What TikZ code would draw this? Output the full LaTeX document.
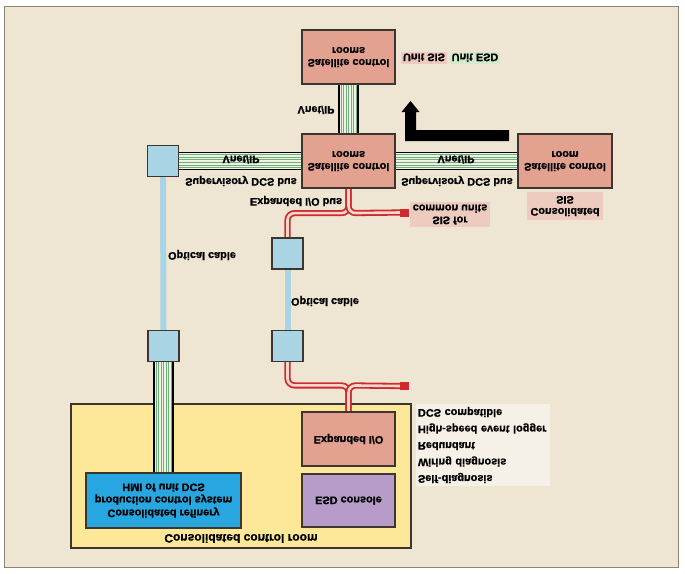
\documentclass[tikz,border=0pt]{standalone}
\usepackage{fontspec}
\setmainfont{Liberation Sans}[BoldFeatures={FakeBold=1}]
\usetikzlibrary{backgrounds}
\definecolor{paper}{HTML}{EEE5D3}
\definecolor{framec}{HTML}{8C8475}
\definecolor{salmon}{HTML}{E3A18F}
\definecolor{edge}{HTML}{3C3530}
\definecolor{conblue}{HTML}{A8D4E4}
\definecolor{hmiblue}{HTML}{28A6E0}
\definecolor{esdpurple}{HTML}{B79CC9}
\definecolor{roomyellow}{HTML}{FDE899}
\definecolor{stripe}{HTML}{6FAE7C}
\definecolor{stripebg}{HTML}{EFF4E2}
\definecolor{cablered}{HTML}{CF2A2E}
\definecolor{cablein}{HTML}{F3D8CC}
\definecolor{tagpink}{HTML}{EDCBBE}
\definecolor{taggreen}{HTML}{D3EACB}
\definecolor{notebg}{HTML}{F6F1E6}
\begin{document}
% Text nodes are mirrored top to bottom (yscale=-1), so on those nodes
% .north is the lower edge on the page and .south the upper edge.
\begin{tikzpicture}[x=1pt,y=-1pt,
  txt/.style={font=\bfseries\fontsize{10.9}{12}\selectfont, yscale=-1, align=center, inner sep=1pt},
  unit/.style={txt, draw=edge, line width=1.2pt, minimum width=93pt, minimum height=54pt},
  satbox/.style={unit, fill=salmon},
  joint/.style={draw=edge, line width=1.2pt, fill=conblue, minimum size=31pt, inner sep=0pt},
  tag/.style={txt, inner sep=0pt},
  cableend/.style={fill=cablered, minimum width=9pt, minimum height=8pt, inner sep=0pt},
  cable/.style={draw=cablered, double=cablein, line width=1.8pt, double distance=2.6pt, rounded corners=7pt},
  optic/.style={draw=conblue, line width=6pt},
  buspale/.style={draw=stripebg},
  busline/.style={draw=stripe, line width=0.8pt},
  busedge/.style={draw=black, line width=1.2pt}]
\useasboundingbox (0,0) rectangle (685,573);

% sheet, control room and feature list
\begin{scope}[on background layer]
  \fill[white] (0,0) rectangle (685,573);
  \draw[framec, fill=paper, line width=1pt] (4,6) rectangle (678.5,567.5);
  \node[draw=edge, line width=1.2pt, fill=roomyellow, minimum width=340pt,
        minimum height=144pt, inner sep=0pt] (room) at (241,476) {};
  \node[txt, fill=notebg, minimum width=134pt, minimum height=82pt, text width=130pt,
        align=left, inner xsep=2pt, inner ysep=0pt,
        font=\bfseries\fontsize{10.9}{16.5}\selectfont] (notes) at (483,445)
        {Self-diagnosis\\Wiring diagnosis\\Redundant\\High-speed event logger\\DCS compatible};
\end{scope}

% control rooms and equipment
\node[satbox] (top) at (348.5,57) {Satellite control\\rooms};
\node[satbox] (mid) at (348.5,161) {Satellite control\\rooms};
\node[satbox, minimum width=94pt] (right) at (565,161) {Satellite control\\room};
\node[joint] (jL) at (163,161) {};
\node[joint] (jLL) at (163.5,346) {};
\node[joint] (jM) at (287.5,253.5) {};
\node[joint] (jML) at (287.5,346) {};
\node[unit, fill=hmiblue, minimum width=155pt, minimum height=55pt,
      font=\bfseries\fontsize{10.9}{13}\selectfont] (hmi) at (163.5,500.5)
      {Consolidated refinery\\production control system\\HMI of unit DCS};
\node[unit, fill=salmon] (exio) at (348.5,439) {Expanded I/O};
\node[unit, fill=esdpurple, minimum height=53pt] (esd) at (348.5,500.5) {ESD console};
\node[cableend] (endA) at (404.5,212.5) {};
\node[cableend] (endB) at (404.5,386) {};

% tags
\node[tag, fill=tagpink, minimum width=46pt, minimum height=12pt] (usis) at (424,57.5) {Unit SIS};
\node[tag, fill=taggreen, minimum width=50pt, minimum height=12pt] (uesd) at (475,57.5) {Unit ESD};
\node[tag, fill=tagpink, minimum width=80pt, minimum height=25pt] (sisc) at (450,214.5) {SIS for\\common units};
\node[tag, fill=tagpink, minimum width=76pt, minimum height=28pt] (csis) at (565,206) {Consolidated\\SIS};

% labels
\node[txt] (vtop) at (316,110) {Vnet/IP};
\node[txt] (vleft) at (241,159.5) {Vnet/IP};
\node[txt] (vright) at (456,159.5) {Vnet/IP};
\node[txt] (sleft) at (241,181) {Supervisory DCS bus};
\node[txt] (sright) at (457,181) {Supervisory DCS bus};
\node[txt] (iobus) at (296,201) {Expanded I/O bus};
\node[txt] (optL) at (202,255) {Optical cable};
\node[txt] (optM) at (325,301) {Optical cable};
\node[txt, font=\bfseries\fontsize{12}{14}\selectfont] (roomlbl) at (241,538.5) {Consolidated control room};

% direction arrow
\fill[black] (509,130) -- (416,130) -- (416,112) -- (419.5,112) -- (410.5,101)
  -- (401.5,112) -- (405,112) -- (405,141) -- (509,141) -- cycle;

% buses and cables
\begin{scope}[on background layer]
  % horizontal supervisory buses
  \draw[buspale, line width=17pt] (jL.east) -- (mid.west);
  \draw[buspale, line width=17pt] (mid.east) -- (right.west);
  \foreach \d in {-6.5,-3.9,-1.3,1.3,3.9,6.5} {
    \draw[busline] ([yshift=\d pt]jL.east) -- ([yshift=\d pt]mid.west);
    \draw[busline] ([yshift=\d pt]mid.east) -- ([yshift=\d pt]right.west);
  }
  \foreach \d in {-8.5,8.5} {
    \draw[busedge] ([yshift=\d pt]jL.east) -- ([yshift=\d pt]mid.west);
    \draw[busedge] ([yshift=\d pt]mid.east) -- ([yshift=\d pt]right.west);
  }
  % vertical buses
  \draw[buspale, line width=19pt] (top.north) -- (mid.south);
  \draw[buspale, line width=19pt] (jLL.south) -- (jLL.south |- hmi.south);
  \foreach \d in {-7.5,-5,-2.5,0,2.5,5,7.5} {
    \draw[busline] ([xshift=\d pt]top.north) -- ([xshift=\d pt]mid.south);
    \draw[busline] ([xshift=\d pt]jLL.south) -- ([xshift=\d pt]jLL.south |- hmi.south);
  }
  \foreach \d in {-9.5,9.5} {
    \draw[busedge] ([xshift=\d pt]top.north) -- ([xshift=\d pt]mid.south);
    \draw[busedge] ([xshift=\d pt]jLL.south) -- ([xshift=\d pt]jLL.south |- hmi.south);
  }
  % optical cables
  \draw[optic] (jL.south) -- (jLL.north);
  \draw[optic] (jM.south) -- (jML.north);
  % expanded I/O cables
  \draw[cable] (mid.north) -- ++(0,24.5) -| (jM.north);
  \draw[cable] (mid.north) -- ++(0,24.5) -- (endA.west);
  \draw[cable] (exio.south) -- ++(0,-26) -| (jML.south);
  \draw[cable] (exio.south) -- ++(0,-26) -- (endB.west);
\end{scope}
\end{tikzpicture}
\end{document}
